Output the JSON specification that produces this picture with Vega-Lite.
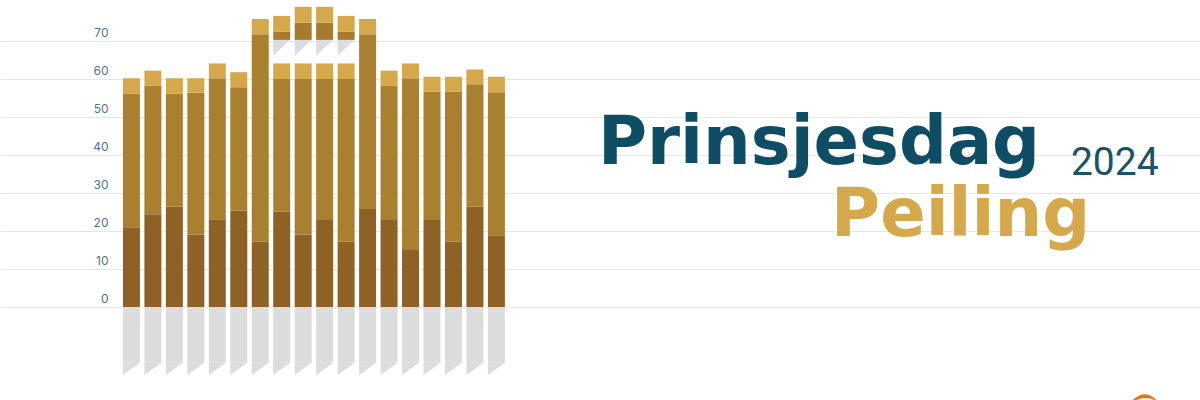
{
  "$schema": "https://vega.github.io/schema/vega-lite/v6.json",
  "width": 1200,
  "height": 400,
  "autosize": {"type": "none"},
  "padding": 0,
  "background": "#ffffff",
  "config": {"view": {"stroke": null}},
  "data": {
    "values": [
      {"n": 1, "dark": 21.0, "mid": 56.1, "light": 60.2},
      {"n": 2, "dark": 24.4, "mid": 58.2, "light": 62.2},
      {"n": 3, "dark": 26.4, "mid": 56.2, "light": 60.2},
      {"n": 4, "dark": 19.1, "mid": 56.4, "light": 60.2},
      {"n": 5, "dark": 23.1, "mid": 60.2, "light": 64.1},
      {"n": 6, "dark": 25.3, "mid": 57.8, "light": 61.8},
      {"n": 7, "dark": 17.2, "mid": 71.8, "light": 75.8},
      {"n": 8, "dark": 25.1, "mid": 60.0, "light": 64.1, "ulo": 70.3, "umid": 72.4, "uhi": 76.6},
      {"n": 9, "dark": 19.1, "mid": 60.0, "light": 64.1, "ulo": 70.3, "umid": 74.8, "uhi": 79.0},
      {"n": 10, "dark": 22.9, "mid": 60.0, "light": 64.1, "ulo": 70.3, "umid": 74.8, "uhi": 79.0},
      {"n": 11, "dark": 17.2, "mid": 60.0, "light": 64.1, "ulo": 70.3, "umid": 72.4, "uhi": 76.6},
      {"n": 12, "dark": 25.8, "mid": 71.8, "light": 75.8},
      {"n": 13, "dark": 22.9, "mid": 58.2, "light": 62.2},
      {"n": 14, "dark": 15.0, "mid": 60.2, "light": 64.1},
      {"n": 15, "dark": 22.9, "mid": 56.7, "light": 60.6},
      {"n": 16, "dark": 17.2, "mid": 56.7, "light": 60.6},
      {"n": 17, "dark": 26.4, "mid": 58.6, "light": 62.5},
      {"n": 18, "dark": 18.9, "mid": 56.5, "light": 60.6}
    ]
  },
  "layer": [
    {
      "mark": {"type": "bar", "width": 17, "color": "#dcdcdf"},
      "encoding": {
        "x": {"field": "n", "type": "quantitative", "scale": {"domain": [-4.889, 50.54], "nice": false, "zero": false}, "axis": null},
        "y": {
          "datum": 0, "type": "quantitative",
          "scale": {"domain": [-24.47, 80.79], "nice": false, "zero": false},
          "axis": {
            "values": [0, 5, 10, 15, 20, 25, 30, 35, 40, 45, 50, 55, 60, 65, 70, 75],
            "grid": true, "gridColor": "#e6e6e6", "gridWidth": 1,
            "domain": false, "ticks": false, "title": null,
            "labelExpr": "datum.value % 10 == 0 ? datum.label : ''",
            "labelOverlap": false, "labelPadding": 0, "offset": -108,
            "labelFont": "Inter", "labelFontSize": 12, "labelColor": "#4f7489",
            "labelBaseline": "middle", "labelOffset": -9, "labelAlign": "right"
          }
        },
        "y2": {"datum": -14.7}
      }
    },
    {
      "mark": {"type": "point", "shape": "M -1 -0.72 L 1 -0.72 L -1 0.72 Z", "size": 289, "filled": true, "color": "#dcdcdf", "opacity": 1, "strokeWidth": 0},
      "encoding": {
        "x": {"field": "n", "type": "quantitative"},
        "y": {"datum": -16.3, "type": "quantitative"}
      }
    },
    {
      "mark": {"type": "bar", "width": 17, "color": "#8e6226"},
      "encoding": {
        "x": {"field": "n", "type": "quantitative"},
        "y": {"field": "dark", "type": "quantitative"},
        "y2": {"datum": 0}
      }
    },
    {
      "mark": {"type": "bar", "width": 17, "color": "#a98030"},
      "encoding": {
        "x": {"field": "n", "type": "quantitative"},
        "y": {"field": "mid", "type": "quantitative"},
        "y2": {"field": "dark"}
      }
    },
    {
      "mark": {"type": "bar", "width": 17, "color": "#d5a84b"},
      "encoding": {
        "x": {"field": "n", "type": "quantitative"},
        "y": {"field": "light", "type": "quantitative"},
        "y2": {"field": "mid"}
      }
    },
    {
      "transform": [{"filter": "datum.ulo != null"}],
      "mark": {"type": "point", "shape": "M -1 -0.94 L 1 -0.94 L -1 0.94 Z", "size": 289, "filled": true, "color": "#dcdde2", "opacity": 1, "strokeWidth": 0},
      "encoding": {
        "x": {"field": "n", "type": "quantitative"},
        "y": {"datum": 68.2, "type": "quantitative"}
      }
    },
    {
      "transform": [{"filter": "datum.ulo != null"}],
      "mark": {"type": "bar", "width": 17, "color": "#a57b2c"},
      "encoding": {
        "x": {"field": "n", "type": "quantitative"},
        "y": {"field": "umid", "type": "quantitative"},
        "y2": {"field": "ulo"}
      }
    },
    {
      "transform": [{"filter": "datum.ulo != null"}],
      "mark": {"type": "bar", "width": 17, "color": "#d5a84b"},
      "encoding": {
        "x": {"field": "n", "type": "quantitative"},
        "y": {"field": "uhi", "type": "quantitative"},
        "y2": {"field": "umid"}
      }
    },
    {
      "data": {"values": [{"t": "Prinsjesdag"}]},
      "mark": {"type": "text", "align": "left", "baseline": "alphabetic", "font": "DejaVu Sans", "fontWeight": 700, "fontSize": 67, "color": "#0f4d65"},
      "encoding": {
        "text": {"field": "t"},
        "x": {"datum": 22.73, "type": "quantitative"},
        "y": {"datum": 37.63, "type": "quantitative"}
      }
    },
    {
      "data": {"values": [{"t": "2024"}]},
      "mark": {"type": "text", "align": "left", "baseline": "alphabetic", "font": "Roboto", "fontWeight": 400, "fontSize": 39, "color": "#17546b"},
      "encoding": {
        "text": {"field": "t"},
        "x": {"datum": 44.76, "type": "quantitative"},
        "y": {"datum": 34.74, "type": "quantitative"}
      }
    },
    {
      "data": {"values": [{"t": "Peiling"}]},
      "mark": {"type": "text", "align": "left", "baseline": "alphabetic", "font": "DejaVu Sans", "fontWeight": 700, "fontSize": 67, "color": "#d6a84c"},
      "encoding": {
        "text": {"field": "t"},
        "x": {"datum": 33.59, "type": "quantitative"},
        "y": {"datum": 18.68, "type": "quantitative"}
      }
    },
    {
      "data": {"values": [{"t": "logo"}]},
      "mark": {"type": "point", "shape": "M -1 0.6 Q 0 -0.7 1 0.4 Q 0 -0.2 -1 0.6 Z", "size": 900, "filled": true, "color": "#e8731a", "opacity": 1, "strokeWidth": 0},
      "encoding": {
        "x": {"datum": 48.14, "type": "quantitative"},
        "y": {"datum": -23.4, "type": "quantitative"}
      }
    }
  ]
}
